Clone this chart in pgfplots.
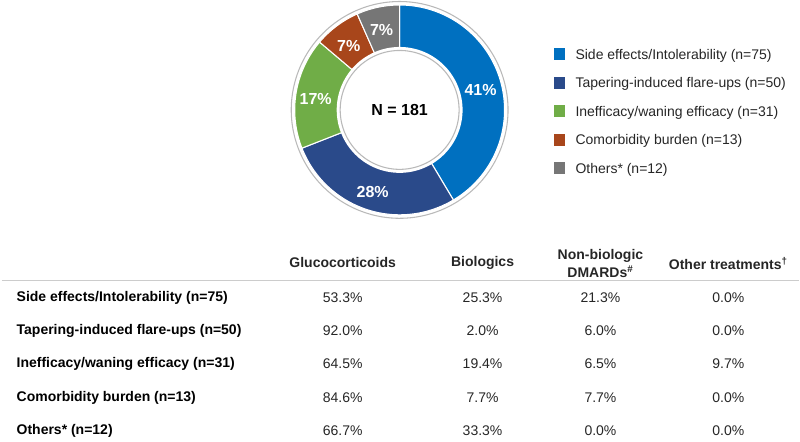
\documentclass[border=0pt]{standalone}
\usepackage{fontspec}
\setmainfont{Liberation Sans}
\usepackage{pgfplots}
\pgfplotsset{compat=1.18}
\definecolor{cblue}{HTML}{0070C0}
\definecolor{cnavy}{HTML}{2A4A8A}
\definecolor{cgreen}{HTML}{70AD47}
\definecolor{crust}{HTML}{A8461B}
\definecolor{cgray}{HTML}{767676}
\definecolor{txt}{HTML}{262626}
\begin{document}
\begin{tikzpicture}[x=0.75pt,y=-0.75pt]
\path (0,0) rectangle (800,440);
\begin{axis}[at={(300pt,-82.5pt)}, anchor=center, width=165pt, height=165pt,
  scale only axis, hide axis, xmin=-110, xmax=110, ymin=-110, ymax=110, clip=false,
  legend style={at={(axis cs:153,63)}, anchor=north west, draw=none, fill=none,
    inner sep=0pt, outer sep=0pt, row sep=9.9pt, column sep=6.75pt,
    font=\fontsize{10.5}{12}\selectfont, text=txt,
    nodes={inner sep=0pt, text height=8pt, text depth=2.5pt, anchor=base west}},
  legend cell align=left,
  legend image code/.code={\fill[#1] (0pt,-1.1pt) rectangle (9.75pt,8.65pt);},
]
% counts: 75, 50, 31, 13, 12 ; total 181
\addplot[fill=cblue, draw=white, line width=0.8pt, domain=0:1, samples=90]
  ({105*cos(90-360*(0+75*x)/181)}, {105*sin(90-360*(0+75*x)/181)}) -- (axis cs:0,0) -- cycle;
\addlegendentry{Side effects/Intolerability (n=75)}
\addplot[fill=cnavy, draw=white, line width=0.8pt, domain=0:1, samples=70]
  ({105*cos(90-360*(75+50*x)/181)}, {105*sin(90-360*(75+50*x)/181)}) -- (axis cs:0,0) -- cycle;
\addlegendentry{Tapering-induced flare-ups (n=50)}
\addplot[fill=cgreen, draw=white, line width=0.8pt, domain=0:1, samples=50]
  ({105*cos(90-360*(125+31*x)/181)}, {105*sin(90-360*(125+31*x)/181)}) -- (axis cs:0,0) -- cycle;
\addlegendentry{Inefficacy/waning efficacy (n=31)}
\addplot[fill=crust, draw=white, line width=0.8pt, domain=0:1, samples=30]
  ({105*cos(90-360*(156+13*x)/181)}, {105*sin(90-360*(156+13*x)/181)}) -- (axis cs:0,0) -- cycle;
\addlegendentry{Comorbidity burden (n=13)}
\addplot[fill=cgray, draw=white, line width=0.8pt, domain=0:1, samples=30]
  ({105*cos(90-360*(169+12*x)/181)}, {105*sin(90-360*(169+12*x)/181)}) -- (axis cs:0,0) -- cycle;
\addlegendentry{Others* (n=12)}
\addplot[forget plot, fill=white, draw=none, domain=0:360, samples=150]
  ({63*cos(x)}, {63*sin(x)});
\addplot[forget plot, draw=gray!55, line width=0.8pt, domain=0:360, samples=180]
  ({108.5*cos(x)}, {108.5*sin(x)});
\addplot[forget plot, draw=gray!55, line width=0.8pt, domain=0:360, samples=150]
  ({59.5*cos(x)}, {59.5*sin(x)});
\node[text=white, font=\bfseries\fontsize{12}{14}\selectfont] at (axis cs:81,20) {41\%};
\node[text=white, font=\bfseries\fontsize{12}{14}\selectfont] at (axis cs:-27,-82) {28\%};
\node[text=white, font=\bfseries\fontsize{12}{14}\selectfont] at (axis cs:-84,11) {17\%};
\node[text=white, font=\bfseries\fontsize{12}{14}\selectfont] at (axis cs:-51,64) {7\%};
\node[text=white, font=\bfseries\fontsize{12}{14}\selectfont] at (axis cs:-18,80) {7\%};
\node[text=black, font=\bfseries\fontsize{12}{14}\selectfont] at (axis cs:0,0) {N = 181};
\end{axis}
% table
\begin{scope}[font=\fontsize{10.5}{13.5}\selectfont, text=txt]
\node[font=\bfseries\fontsize{10.5}{13.5}\selectfont] at (343,263) {Glucocorticoids};
\node[font=\bfseries\fontsize{10.5}{13.5}\selectfont] at (483,263) {Biologics};
\node[font=\bfseries\fontsize{10.5}{13.5}\selectfont, align=center] at (601,264) {Non-biologic\\DMARDs\textsuperscript{\#}};
\node[font=\bfseries\fontsize{10.5}{13.5}\selectfont] at (729,264) {Other treatments\textsuperscript{†}};
\draw[gray!40, line width=1.1pt] (2,281) -- (800,281);
\foreach \lab/\y/\a/\b/\c/\d in {
  {Side effects/Intolerability (n=75)}/298/53.3/25.3/21.3/0.0,
  {Tapering-induced flare-ups (n=50)}/331/92.0/2.0/6.0/0.0,
  {Inefficacy/waning efficacy (n=31)}/364/64.5/19.4/6.5/9.7,
  {Comorbidity burden (n=13)}/398/84.6/7.7/7.7/0.0,
  {Others* (n=12)}/431/66.7/33.3/0.0/0.0} {
  \node[anchor=west, text=black, font=\bfseries\fontsize{10.5}{13.5}\selectfont] at (12,\y) {\lab};
  \node at (343,\y) {\a\%};
  \node at (483,\y) {\b\%};
  \node at (601,\y) {\c\%};
  \node at (729,\y) {\d\%};
}
\end{scope}
\end{tikzpicture}
\end{document}
